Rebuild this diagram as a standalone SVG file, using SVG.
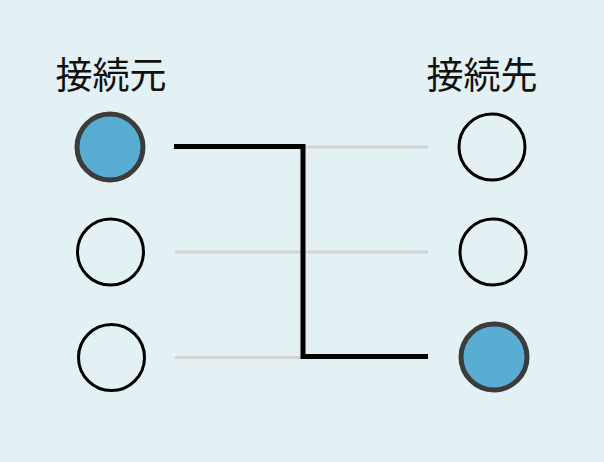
<svg xmlns="http://www.w3.org/2000/svg" width="604" height="462" viewBox="0 0 604 462">
<style>
.bg{fill:#e3f0f4}
.lbl{font-family:"Noto Sans CJK JP","Noto Sans CJK SC",sans-serif;font-size:37px;fill:#111}
.off{fill:none;stroke:#000;stroke-width:3}
.on{fill:#59add3;stroke:#3c3c3c;stroke-width:5}
.guide{stroke:#d3d3d3;stroke-width:3;fill:none}
.wire{stroke:#000;stroke-width:5;fill:none;stroke-linejoin:miter}
</style>
<rect class="bg" width="604" height="462"/>
<g id="labels">
<text class="lbl" x="111" y="89" text-anchor="middle">接続元</text>
<text class="lbl" x="482" y="89" text-anchor="middle">接続先</text>
</g>
<g id="connectors">
<line class="guide" x1="303" y1="147" x2="428" y2="147"/>
<line class="guide" x1="175" y1="252" x2="428" y2="252"/>
<line class="guide" x1="175" y1="357.5" x2="303" y2="357.5"/>
<polyline class="wire" points="174,146.5 303,146.5 303,356.5 428,356.5"/>
</g>
<g id="src1"><circle class="on" cx="110" cy="147" r="33"/></g>
<g id="src2"><circle class="off" cx="110.5" cy="252" r="33"/></g>
<g id="src3"><circle class="off" cx="111.5" cy="357.5" r="33"/></g>
<g id="dst1"><circle class="off" cx="492" cy="147" r="33"/></g>
<g id="dst2"><circle class="off" cx="493" cy="252" r="33"/></g>
<g id="dst3"><circle class="on" cx="494" cy="357" r="33"/></g>
</svg>
